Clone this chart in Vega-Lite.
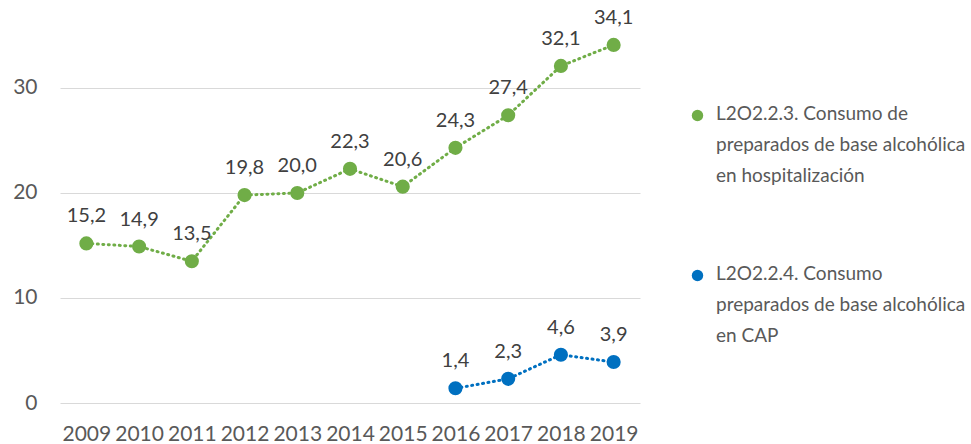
{
  "$schema": "https://vega.github.io/schema/vega-lite/v6.json",
  "width": 580,
  "height": 403,
  "autosize": {"type": "none"},
  "padding": {"left": 60, "top": 0, "right": 331, "bottom": 41},
  "background": "white",
  "config": {
    "view": {"stroke": null},
    "font": "Lato",
    "locale": {"number": {"decimal": ",", "thousands": ".", "grouping": [3], "currency": ["", " €"]}}
  },
  "data": {
    "values": [
      {"year": "2009", "value": 15.2, "series": "L2O2.2.3. Consumo de|preparados de base alcohólica|en hospitalización"},
      {"year": "2010", "value": 14.9, "series": "L2O2.2.3. Consumo de|preparados de base alcohólica|en hospitalización"},
      {"year": "2011", "value": 13.5, "series": "L2O2.2.3. Consumo de|preparados de base alcohólica|en hospitalización"},
      {"year": "2012", "value": 19.8, "series": "L2O2.2.3. Consumo de|preparados de base alcohólica|en hospitalización"},
      {"year": "2013", "value": 20.0, "series": "L2O2.2.3. Consumo de|preparados de base alcohólica|en hospitalización"},
      {"year": "2014", "value": 22.3, "series": "L2O2.2.3. Consumo de|preparados de base alcohólica|en hospitalización"},
      {"year": "2015", "value": 20.6, "series": "L2O2.2.3. Consumo de|preparados de base alcohólica|en hospitalización"},
      {"year": "2016", "value": 24.3, "series": "L2O2.2.3. Consumo de|preparados de base alcohólica|en hospitalización"},
      {"year": "2017", "value": 27.4, "series": "L2O2.2.3. Consumo de|preparados de base alcohólica|en hospitalización"},
      {"year": "2018", "value": 32.1, "series": "L2O2.2.3. Consumo de|preparados de base alcohólica|en hospitalización"},
      {"year": "2019", "value": 34.1, "series": "L2O2.2.3. Consumo de|preparados de base alcohólica|en hospitalización"},
      {"year": "2016", "value": 1.4, "series": "L2O2.2.4. Consumo|preparados de base alcohólica|en CAP"},
      {"year": "2017", "value": 2.3, "series": "L2O2.2.4. Consumo|preparados de base alcohólica|en CAP"},
      {"year": "2018", "value": 4.6, "series": "L2O2.2.4. Consumo|preparados de base alcohólica|en CAP"},
      {"year": "2019", "value": 3.9, "series": "L2O2.2.4. Consumo|preparados de base alcohólica|en CAP"}
    ]
  },
  "encoding": {
    "x": {
      "field": "year", "type": "ordinal",
      "scale": {"type": "point", "padding": 0.5},
      "axis": {
        "title": null, "labelAngle": 0, "domain": false, "ticks": false, "grid": false,
        "labelFontSize": 21, "labelColor": "#595959", "labelPadding": 20
      }
    },
    "y": {
      "field": "value", "type": "quantitative",
      "scale": {"domain": [0, 38.38], "nice": false, "zero": true},
      "axis": {
        "title": null, "values": [0, 10, 20, 30], "domain": false, "ticks": false,
        "gridColor": "#d9d9d9", "gridWidth": 1,
        "labelFontSize": 21, "labelColor": "#595959", "labelPadding": 23
      }
    },
    "color": {
      "field": "series", "type": "nominal",
      "scale": {
        "domain": [
          "L2O2.2.3. Consumo de|preparados de base alcohólica|en hospitalización",
          "L2O2.2.4. Consumo|preparados de base alcohólica|en CAP"
        ],
        "range": ["#70AD47", "#0070C0"]
      },
      "legend": {
        "title": null, "orient": "none", "legendX": 628, "legendY": 106,
        "symbolType": "circle", "symbolSize": 130, "symbolStrokeWidth": 0,
        "labelFontSize": 19, "labelColor": "#595959", "labelLimit": 400,
        "labelExpr": "split(datum.label, '|')", "labelBaseline": "top", "labelOffset": 9,
        "rowPadding": 78, "padding": 0,
        "encode": {"labels": {"update": {"lineHeight": {"value": 31}, "dy": {"value": -11}}}}
      }
    }
  },
  "layer": [
    {
      "mark": {"type": "line", "strokeWidth": 3, "strokeDash": [1, 4.5], "strokeCap": "round"}
    },
    {
      "mark": {"type": "point", "filled": true, "size": 200, "opacity": 1, "shape": "circle"}
    },
    {
      "mark": {"type": "text", "fontSize": 20, "color": "#404040", "dy": -27, "baseline": "middle"},
      "encoding": {
        "text": {"field": "value", "type": "quantitative", "format": ".1f"},
        "color": {"value": "#404040"}
      }
    }
  ]
}
